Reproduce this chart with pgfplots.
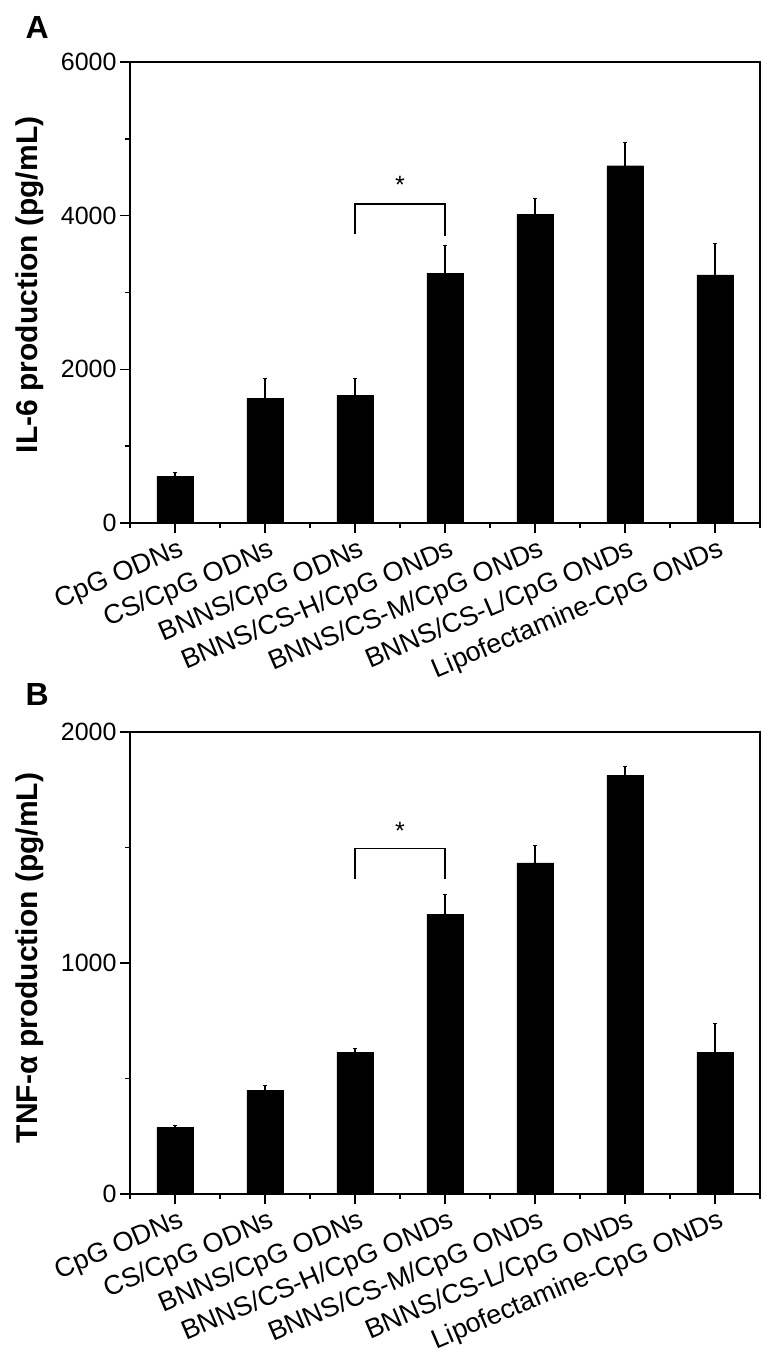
\documentclass[border=0pt]{standalone}
\usepackage{fontspec}
\setmainfont{Liberation Sans}
\usepackage{pgfplots}
\pgfplotsset{compat=1.18}
\begin{document}
\begin{tikzpicture}[x=1pt,y=1pt]
\path[use as bounding box] (0,0) rectangle (778,-1357);
\pgfplotsset{
 panel/.style={
  width=630pt, scale only axis,
  xmin=-0.5, xmax=6.5, ymin=0,
  ybar, bar width=36.5pt,
  xtick={0,...,6},
  minor xtick={-0.5,0.5,...,6.5},
  xticklabels={CpG ODNs, CS/CpG ODNs, BNNS/CpG ODNs, BNNS/CS-H/CpG ONDs, BNNS/CS-M/CpG ONDs, BNNS/CS-L/CpG ONDs, Lipofectamine-CpG ONDs},
  tick align=outside, xtick pos=left, ytick pos=left,
  major tick length=10pt, minor tick length=5pt,
  every tick/.style={black, line width=1.6pt},
  axis line style={line width=1.6pt},
  yticklabel style={font=\fontsize{25}{30}\selectfont},
  /pgf/number format/assume math mode=true,
  /pgf/number format/1000 sep={},
  xticklabel style={font=\fontsize{27}{31}\selectfont, rotate=23, anchor=north east, inner sep=1pt, yshift=-4pt, xshift=2pt},
  error bars/y dir=plus, error bars/y explicit,
  error bars/error bar style={line width=1.6pt, black},
 }
}
\begin{axis}[panel, height=461pt, at={(130pt,-523pt)}, anchor=south west,
  ymax=6000, ytick={0,2000,4000,6000}, minor ytick={1000,3000,5000}]
\addplot[fill=black, draw=black] table[x=x, y=y, y error=e] {
x y e
0 603 60
1 1624 264
2 1658 232
3 3250 370
4 4020 210
5 4650 300
6 3230 410
};
\draw[line width=1.6pt] (axis cs:2,3760) |- (axis cs:3,4150) -- (axis cs:3,3740);
\node[font=\fontsize{25}{30}\selectfont] at (axis cs:2.5,4400) {*};
\end{axis}
\begin{axis}[panel, height=462pt, at={(130pt,-1194pt)}, anchor=south west,
  ymax=2000, ytick={0,1000,2000}, minor ytick={500,1500}]
\addplot[fill=black, draw=black] table[x=x, y=y, y error=e] {
x y e
0 290 6
1 450 23
2 614 16
3 1212 88
4 1433 75
5 1812 38
6 612 128
};
\draw[line width=1.6pt] (axis cs:2,1364) |- (axis cs:3,1495) -- (axis cs:3,1364);
\node[font=\fontsize{25}{30}\selectfont] at (axis cs:2.5,1573) {*};
\end{axis}
\node[rotate=90, font=\bfseries\fontsize{30}{34}\selectfont] at (30pt,-285pt) {IL-6 production (pg/mL)};
\node[rotate=90, font=\bfseries\fontsize{30}{34}\selectfont] at (30pt,-958pt) {TNF-α production (pg/mL)};
\node[font=\bfseries\fontsize{32}{36}\selectfont, anchor=base west] at (22pt,-38pt) {A};
\node[font=\bfseries\fontsize{32}{36}\selectfont, anchor=base west] at (22pt,-705pt) {B};
\end{tikzpicture}
\end{document}
